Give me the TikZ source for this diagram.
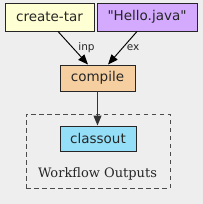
\documentclass[tikz,border=0pt]{standalone}
\usepackage{fontspec}
\setmainfont{DejaVu Serif}
\newfontfamily\nodefont{DejaVu Sans}
\usetikzlibrary{arrows.meta}
\definecolor{bg}{HTML}{EEEEEE}
\definecolor{ctcol}{HTML}{FFFFD4}
\definecolor{hjcol}{HTML}{D4AAFF}
\definecolor{cpcol}{HTML}{F5CFA0}
\definecolor{cocol}{HTML}{94DFF7}
\tikzset{
  box/.style={draw=black!85, line width=0.95pt, rectangle, inner sep=0pt, font=\nodefont\fontsize{13.5}{15}\selectfont, text=black!85},
  edge/.style={draw=black, line width=0.95pt, -{Triangle[length=10pt,width=8pt]}},
  elabel/.style={font=\nodefont\fontsize{10.5}{12}\selectfont, text=black!85, inner sep=0pt},
}
\begin{document}
\begin{tikzpicture}[x=1pt,y=-1pt]
\useasboundingbox[fill=bg] (0,0) rectangle (203,204);
\node[draw=black!70, dashed, dash pattern=on 4.5pt off 3.5pt, line width=0.95pt, minimum width=144pt, minimum height=74pt, inner sep=0pt] (cluster) at (98,151) {};
\node[font=\fontsize{13}{15}\selectfont, text=black!85, inner sep=0pt] (clabel) at (97.5,174) {Workflow Outputs};
\node[box, fill=ctcol, minimum width=89pt, minimum height=28pt] (ct) at (49.5,17) {create-tar};
\node[box, fill=hjcol, minimum width=100pt, minimum height=28pt] (hj) at (147,17) {"Hello.java"};
\node[box, fill=cpcol, minimum width=75pt, minimum height=26pt] (cp) at (97.5,78) {compile};
\node[box, fill=cocol, minimum width=76pt, minimum height=25pt] (co) at (98,138.5) {classout};
\draw[edge] ([xshift=8.5pt]ct.south) -- ([xshift=-9.5pt]cp.north);
\draw[edge] ([xshift=-10pt]hj.south) -- ([xshift=10.5pt]cp.north);
\draw[edge, draw=black!80] (cp.south) -- (cp.south |- co.north);
\node[elabel] (l1) at (86.5,47.5) {inp};
\node[elabel] (l2) at (133,47.5) {ex};
\end{tikzpicture}
\end{document}
